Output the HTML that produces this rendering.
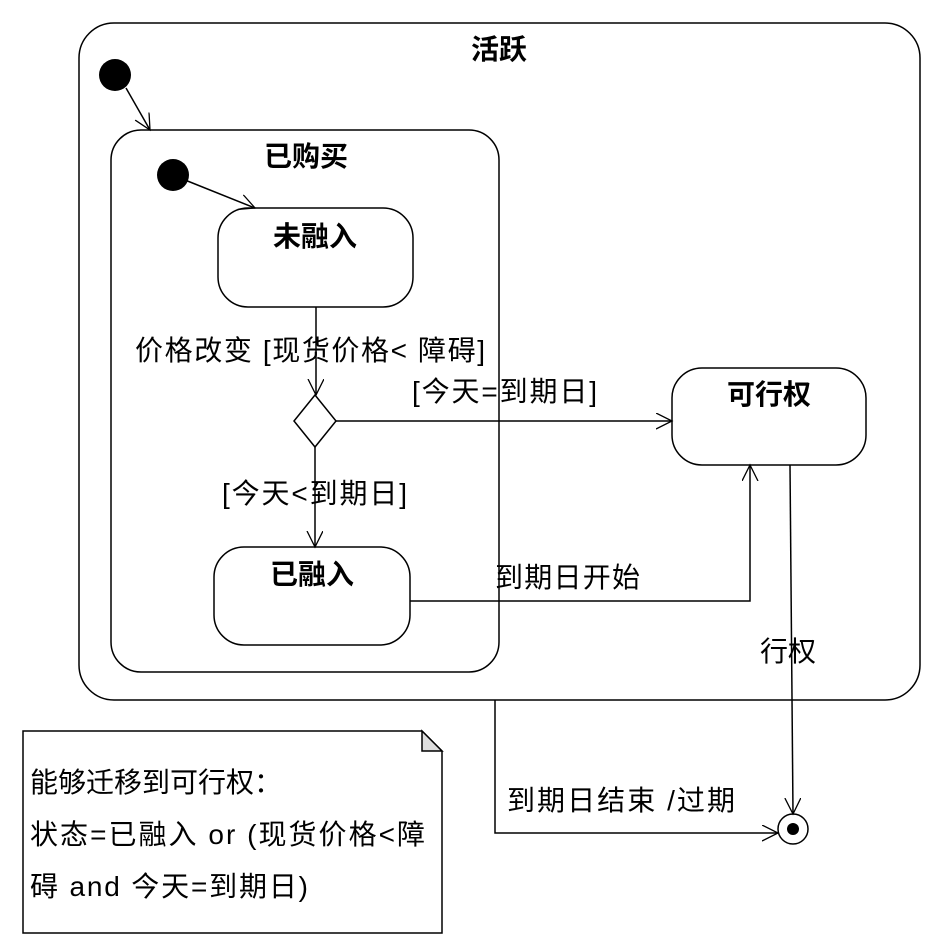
<!DOCTYPE html>
<html><head><meta charset="utf-8"><style>
body{margin:0;background:#fff}
svg text{font-family:"Liberation Sans","Noto Sans CJK SC",sans-serif;fill:#000}
.t{font-size:28px}
.b{font-size:28px;font-weight:bold}
</style></head><body>
<svg width="937" height="947" viewBox="0 0 937 947" xmlns="http://www.w3.org/2000/svg">
<defs><marker id="a" markerWidth="20" markerHeight="20" refX="16" refY="8" orient="auto" markerUnits="userSpaceOnUse"><path d="M0,0 L16,8 L0,16" fill="none" stroke="#000" stroke-width="1.3"/></marker></defs>
<g fill="none" stroke="#000" stroke-width="1.5">
<rect x="79" y="23" width="841" height="677" rx="35"/>
<rect x="111" y="130" width="388" height="542" rx="30"/>
<rect x="218" y="208" width="195" height="99" rx="30"/>
<rect x="672" y="368" width="194" height="97" rx="30"/>
<rect x="214" y="547" width="196" height="98" rx="30"/>
<polygon points="315,395 336,421 315,447 294,421"/>
<line x1="126" y1="88" x2="150" y2="130" marker-end="url(#a)"/>
<line x1="185" y1="180" x2="255" y2="208" marker-end="url(#a)"/>
<line x1="316" y1="307" x2="316" y2="395" marker-end="url(#a)"/>
<line x1="336" y1="421" x2="672" y2="421" marker-end="url(#a)"/>
<line x1="315" y1="447" x2="315" y2="547" marker-end="url(#a)"/>
<polyline points="410,601 750,601 750,465" marker-end="url(#a)"/>
<line x1="790" y1="465" x2="793" y2="814" marker-end="url(#a)"/>
<polyline points="495,700 495,833 778,833" marker-end="url(#a)"/>
<circle cx="793" cy="829" r="15"/>
<path d="M23,731 L422,731 L442,751 L442,933 L23,933 Z" fill="#fff"/>
<path d="M422,731 L422,751 L442,751 Z" fill="#ddd"/>
</g>
<circle cx="115" cy="75" r="16"/>
<circle cx="173" cy="175" r="16"/>
<circle cx="793" cy="829" r="6"/>
<text class="b" x="499" y="59" text-anchor="middle">活跃</text>
<text class="b" x="306" y="166" text-anchor="middle">已购买</text>
<text class="b" x="315" y="246" text-anchor="middle">未融入</text>
<text class="b" x="769" y="404" text-anchor="middle">可行权</text>
<text class="b" x="312" y="584" text-anchor="middle">已融入</text>
<text class="t" x="135" y="360" textLength="350" lengthAdjust="spacing">价格改变 [现货价格&lt; 障碍]</text>
<text class="t" x="412" y="401" textLength="185" lengthAdjust="spacing">[今天=到期日]</text>
<text class="t" x="222" y="503" textLength="185" lengthAdjust="spacing">[今天&lt;到期日]</text>
<text class="t" x="495" y="587" textLength="145" lengthAdjust="spacing">到期日开始</text>
<text class="t" x="760" y="661">行权</text>
<text class="t" x="507" y="810" textLength="228" lengthAdjust="spacing">到期日结束 /过期</text>
<text class="t" x="30" y="792">能够迁移到可行权：</text>
<text class="t" x="30" y="844" textLength="395" lengthAdjust="spacing">状态=已融入 or (现货价格&lt;障</text>
<text class="t" x="30" y="896" textLength="278" lengthAdjust="spacing">碍 and 今天=到期日)</text>
</svg>
</body></html>
